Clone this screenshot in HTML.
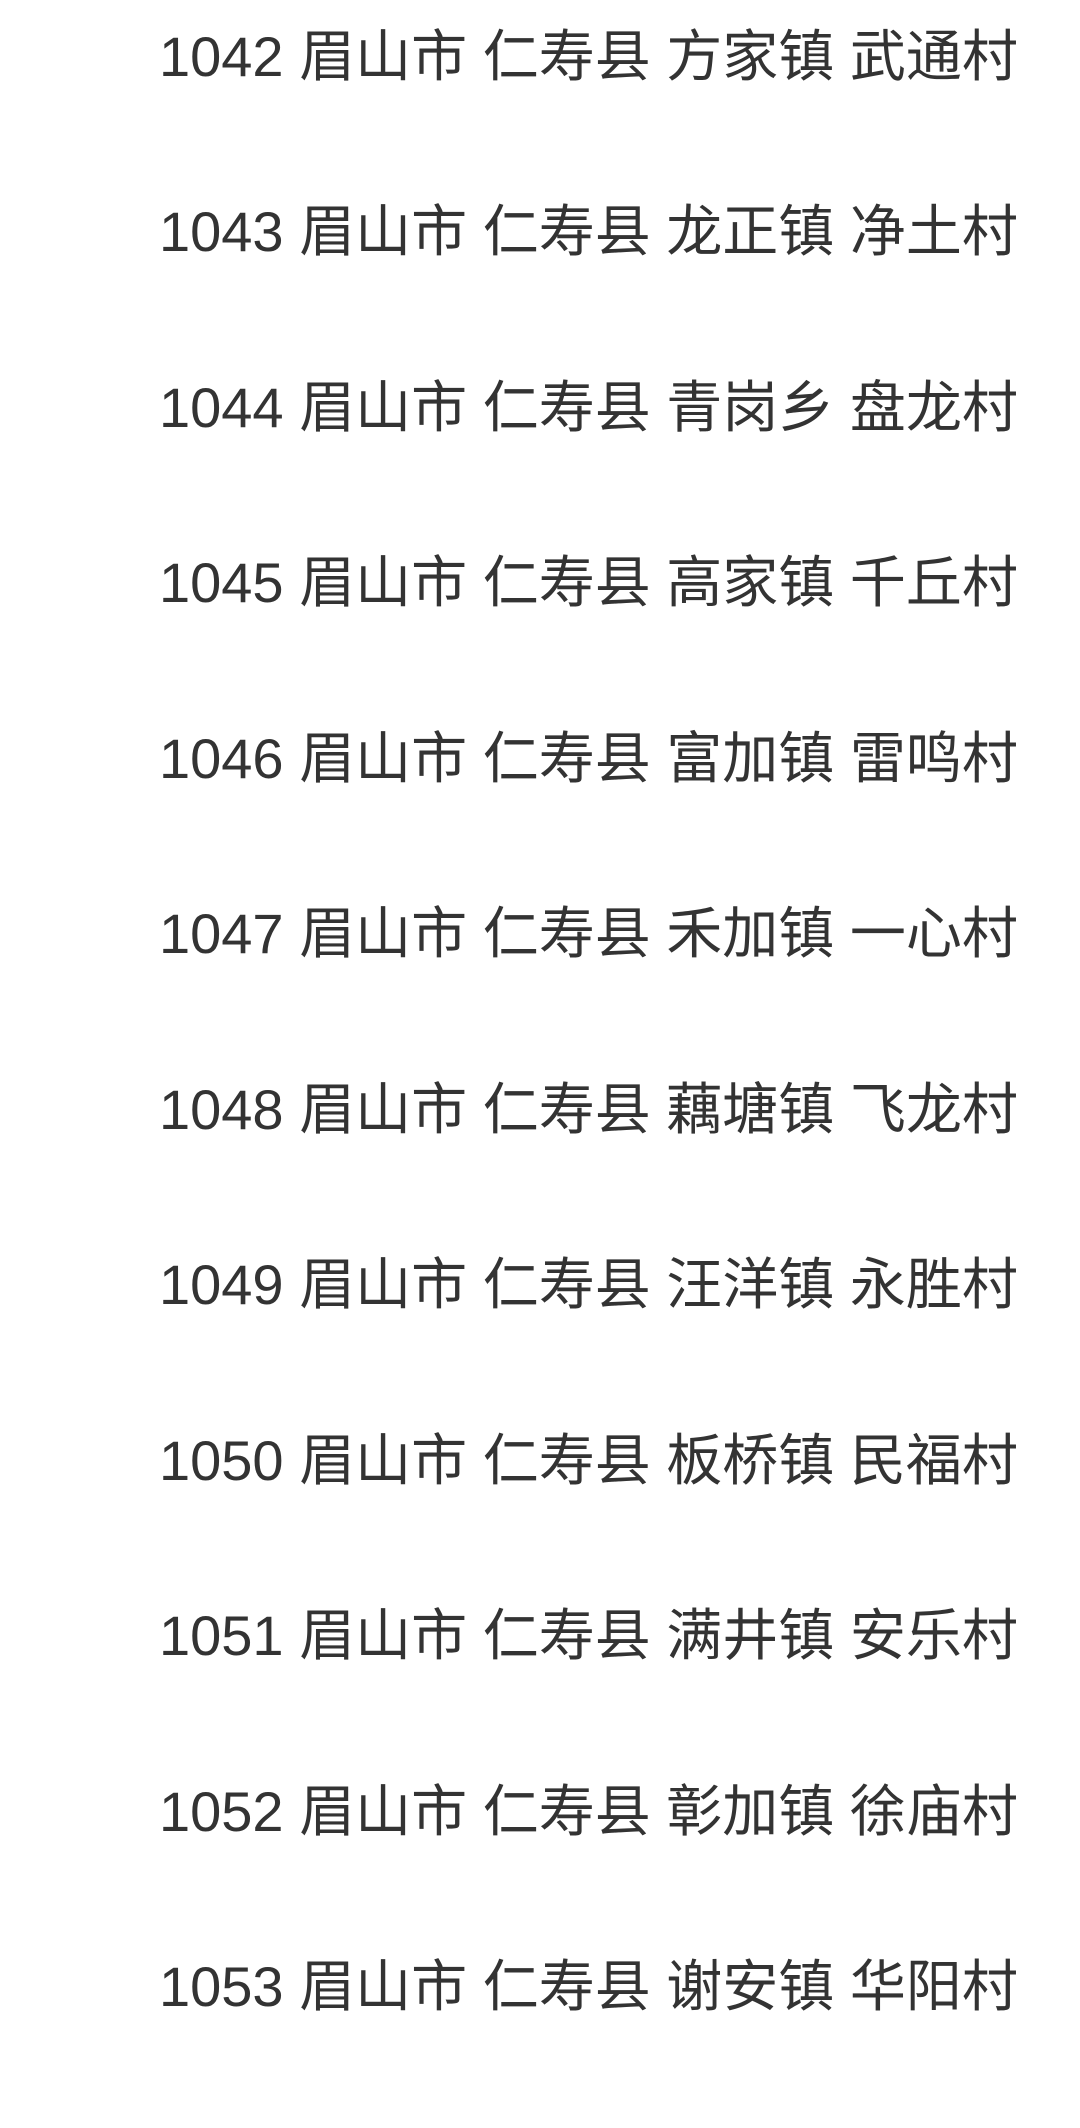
<!DOCTYPE html>
<html><head><meta charset="utf-8"><style>
html,body{margin:0;padding:0;background:#fff;}
body{width:1080px;height:2128px;position:relative;overflow:hidden;}
.l{position:absolute;left:159px;font-family:"Liberation Sans","Noto Sans CJK SC",sans-serif;font-size:56px;line-height:56px;color:#333;white-space:nowrap;}
</style></head><body>
<div class="l" style="top:29px">1042 眉山市 仁寿县 方家镇 武通村</div>
<div class="l" style="top:204px">1043 眉山市 仁寿县 龙正镇 净土村</div>
<div class="l" style="top:380px">1044 眉山市 仁寿县 青岗乡 盘龙村</div>
<div class="l" style="top:555px">1045 眉山市 仁寿县 高家镇 千丘村</div>
<div class="l" style="top:731px">1046 眉山市 仁寿县 富加镇 雷鸣村</div>
<div class="l" style="top:906px">1047 眉山市 仁寿县 禾加镇 一心村</div>
<div class="l" style="top:1082px">1048 眉山市 仁寿县 藕塘镇 飞龙村</div>
<div class="l" style="top:1257px">1049 眉山市 仁寿县 汪洋镇 永胜村</div>
<div class="l" style="top:1433px">1050 眉山市 仁寿县 板桥镇 民福村</div>
<div class="l" style="top:1608px">1051 眉山市 仁寿县 满井镇 安乐村</div>
<div class="l" style="top:1784px">1052 眉山市 仁寿县 彰加镇 徐庙村</div>
<div class="l" style="top:1959px">1053 眉山市 仁寿县 谢安镇 华阳村</div>
</body></html>
